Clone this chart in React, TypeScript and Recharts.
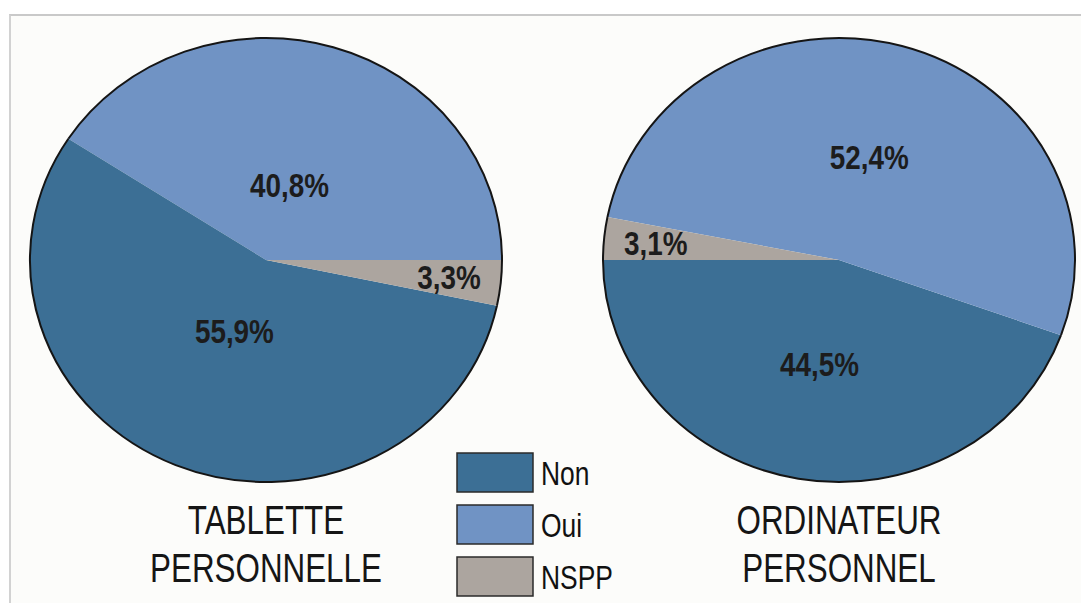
import React from "react";
import { PieChart, Pie, Cell, Legend, Customized } from "recharts";

// ---- data ----
const categories = ["Non", "Oui", "NSPP"];
const tabletteValues = [55.9, 40.8, 3.3];
const ordinateurValues = [44.5, 52.4, 3.1];
const tabletteTitle = ["TABLETTE", "PERSONNELLE"];
const ordinateurTitle = ["ORDINATEUR", "PERSONNEL"];
// slice drawing order (counter-clockwise from the start angle)
const tabletteOrder = ["Oui", "Non", "NSPP"];
const ordinateurOrder = ["Non", "Oui", "NSPP"];

// ---- styles ----
const COLORS: Record<string, string> = {
  Non: "#3c6f95",
  Oui: "#7093c4",
  NSPP: "#aca59f",
};
const KX = 236 / 222; // horizontal stretch of the pies in the reference
const RAD = Math.PI / 180;
const FONT = "'Liberation Sans', Arial, Helvetica, sans-serif";
const R = 222;
const LEFT_CX = 266;
const RIGHT_CX = 839;
const CY = 260;

const fmt = (v: number) => v.toFixed(1).replace(".", ",") + "%";

const buildData = (order: string[], values: number[]) =>
  order.map((name) => ({ name, value: values[categories.indexOf(name)] }));

const tabletteData = buildData(tabletteOrder, tabletteValues);
const ordinateurData = buildData(ordinateurOrder, ordinateurValues);

function EllipseSector(p: any) {
  const { cx, cy, outerRadius: r, startAngle: s, endAngle: e, fill } = p;
  const rx = r * KX;
  const ry = r;
  const x1 = cx + rx * Math.cos(s * RAD);
  const y1 = cy - ry * Math.sin(s * RAD);
  const x2 = cx + rx * Math.cos(e * RAD);
  const y2 = cy - ry * Math.sin(e * RAD);
  const d = e - s;
  const large = Math.abs(d) > 180 ? 1 : 0;
  const sweep = d > 0 ? 0 : 1;
  return (
    <g>
      <path
        d={`M${cx},${cy}L${x1},${y1}A${rx},${ry} 0 ${large} ${sweep} ${x2},${y2}Z`}
        fill={fill}
        stroke="none"
      />
      <path
        d={`M${x1},${y1}A${rx},${ry} 0 ${large} ${sweep} ${x2},${y2}`}
        fill="none"
        stroke="#151515"
        strokeWidth={2}
      />
    </g>
  );
}

const makeLabel = (bigK: number) => (p: any) => {
  const { cx, cy, midAngle, outerRadius, percent, value } = p;
  const k = percent < 0.05 ? 0.78 : bigK;
  const x = cx + outerRadius * KX * k * Math.cos(midAngle * RAD);
  const y = cy - outerRadius * k * Math.sin(midAngle * RAD);
  return (
    <text
      transform={`translate(${x},${y}) scale(0.82,1)`}
      x={0}
      y={0}
      textAnchor="middle"
      dominantBaseline="central"
      fontFamily={FONT}
      fontWeight="bold"
      fontSize={34}
      fill="#1c1c1c"
    >
      {fmt(value)}
    </text>
  );
};

function Titles() {
  const block = (lines: string[], cx: number) =>
    lines.map((t, i) => (
      <text
        key={t + i}
        transform={`translate(${cx},${534 + i * 48}) scale(0.765,1)`}
        x={0}
        y={0}
        textAnchor="middle"
        fontFamily={FONT}
        fontSize={41}
        fill="#151515"
      >
        {t}
      </text>
    ));
  return (
    <g>
      {block(tabletteTitle, LEFT_CX)}
      {block(ordinateurTitle, RIGHT_CX)}
    </g>
  );
}

function LegendContent() {
  return (
    <svg width={200} height={150} style={{ display: "block" }}>
      {categories.map((c, i) => (
        <g key={c}>
          <rect
            x={1}
            y={1 + i * 52}
            width={76}
            height={39}
            fill={COLORS[c]}
            stroke="#2a2a2a"
            strokeWidth={1.5}
          />
          <text
            transform={`translate(85,${21 + i * 52}) scale(0.8,1)`}
            x={0}
            y={0}
            dominantBaseline="central"
            fontFamily={FONT}
            fontSize={33}
            fill="#111"
          >
            {c}
          </text>
        </g>
      ))}
    </svg>
  );
}

export default function App() {
  return (
    <div
      style={{
        position: "absolute",
        left: 0,
        top: 0,
        width: 1081,
        height: 603,
        background: "#ffffff",
        overflow: "hidden",
      }}
    >
      <div
        style={{
          position: "absolute",
          left: 9,
          top: 14,
          right: 0,
          bottom: 0,
          background: "#fcfcfa",
          borderTop: "2px solid #c9c9c9",
          borderLeft: "2px solid #d2d2d2",
        }}
      />
      <div style={{ position: "absolute", left: 0, top: 0 }}>
        <PieChart
          width={1081}
          height={603}
          margin={{ top: 0, right: 0, bottom: 0, left: 0 }}
        >
          <Pie
            data={tabletteData}
            dataKey="value"
            nameKey="name"
            cx={LEFT_CX}
            cy={CY}
            outerRadius={R}
            startAngle={0}
            endAngle={360}
            stroke="none"
            shape={EllipseSector}
            labelLine={false}
            label={makeLabel(0.35)}
            isAnimationActive={false}
          >
            {tabletteData.map((d) => (
              <Cell key={d.name} fill={COLORS[d.name]} />
            ))}
          </Pie>
          <Pie
            data={ordinateurData}
            dataKey="value"
            nameKey="name"
            cx={RIGHT_CX}
            cy={CY}
            outerRadius={R}
            startAngle={180}
            endAngle={540}
            stroke="none"
            shape={EllipseSector}
            labelLine={false}
            label={makeLabel(0.48)}
            isAnimationActive={false}
          >
            {ordinateurData.map((d) => (
              <Cell key={d.name} fill={COLORS[d.name]} />
            ))}
          </Pie>
          <Customized component={<Titles />} />
          <Legend
            content={<LegendContent />}
            wrapperStyle={{
              position: "absolute",
              left: 456,
              top: 452,
              width: 200,
              height: 150,
              bottom: "auto",
            }}
          />
        </PieChart>
      </div>
    </div>
  );
}
